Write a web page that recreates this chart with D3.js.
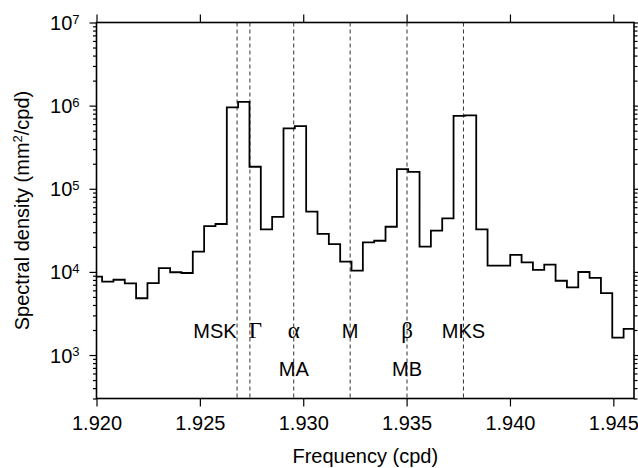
<!DOCTYPE html>
<html>
<head>
<meta charset="utf-8">
<script src="https://cdn.jsdelivr.net/npm/d3@7"></script>
<style>
  body { margin: 0; background: #fff; }
  text { font-family: "Liberation Sans", Arial, Helvetica, sans-serif; fill: #000; }
  .greek { font-family: "Liberation Serif", "Times New Roman", serif; }
</style>
</head>
<body>
<div id="chart"></div>
<script>
// bin centres (cpd) and spectral density (mm^2/cpd)
const freqs = [
  1.919997, 1.920545, 1.921093, 1.921642, 1.922190, 1.922739, 1.923287, 1.923836,
  1.924384, 1.924932, 1.925481, 1.926029, 1.926578, 1.927126, 1.927674, 1.928223,
  1.928771, 1.929320, 1.929868, 1.930416, 1.930965, 1.931513, 1.932062, 1.932610,
  1.933158, 1.933707, 1.934255, 1.934804, 1.935352, 1.935900, 1.936449, 1.936997,
  1.937546, 1.938094, 1.938642, 1.939191, 1.939739, 1.940288, 1.940836, 1.941384,
  1.941933, 1.942481, 1.943030, 1.943578, 1.944126, 1.944675, 1.945223, 1.945772
];
const density = [
  8750, 7620, 8050, 7290, 4820, 7340, 11100, 9900,
  9700, 17500, 35600, 37700, 951000, 1110000, 184000, 32500,
  46000, 532000, 568000, 53000, 28600, 21600, 13300, 10350,
  22700, 23700, 34900, 172500, 160000, 20100, 31300, 44100,
  754000, 762000, 32500, 11900, 11900, 16000, 13000, 10600,
  12200, 7830, 6530, 9970, 8460, 5570, 1620, 2060
];
const binWidth = 0.0005484;

// tidal constituents marked by dashed lines
const lineNames = ["MSK", "Γ", "α", "M", "β", "MKS"];
const lineFreqs = [1.92680, 1.92742, 1.92954, 1.93227, 1.93502, 1.93775];
const lowerNames = ["", "", "MA", "", "MB", ""];

const xTicks = [1.920, 1.925, 1.930, 1.935, 1.940, 1.945];
const yTicks = [1e3, 1e4, 1e5, 1e6, 1e7];

const W = 638, H = 468;
const margin = { top: 22.5, right: 4, bottom: 69.5, left: 96.5 };
const width = W - margin.left - margin.right;
const height = H - margin.top - margin.bottom;

const svg = d3.select("#chart").append("svg")
    .attr("width", W)
    .attr("height", H);

const g = svg.append("g")
    .attr("transform", `translate(${margin.left},${margin.top})`);

const x = d3.scaleLinear().domain([1.920, 1.946]).range([0, width]);
const y = d3.scaleLog().domain([300, 1e7]).range([height, 0]);

g.append("clipPath").attr("id", "clip")
  .append("rect").attr("width", width).attr("height", height);

// dashed constituent lines
g.append("g")
  .selectAll("line")
  .data(lineFreqs)
  .join("line")
    .attr("x1", d => x(d)).attr("x2", d => x(d))
    .attr("y1", 0).attr("y2", height)
    .attr("stroke", "#333")
    .attr("stroke-width", 1)
    .attr("stroke-dasharray", "4,3");

// histogram-style spectrum
const pts = [];
freqs.forEach((f, i) => {
  pts.push([f - binWidth / 2, density[i]]);
  pts.push([f + binWidth / 2, density[i]]);
});
const line = d3.line().x(d => x(d[0])).y(d => y(d[1]));
g.append("path")
  .datum(pts)
  .attr("clip-path", "url(#clip)")
  .attr("d", line)
  .attr("fill", "none")
  .attr("stroke", "#000")
  .attr("stroke-width", 1.8)
  .attr("stroke-linejoin", "miter");

// constituent labels
const isGreek = s => /[Α-ω]/.test(s);
g.append("g")
  .selectAll("text")
  .data(lineNames)
  .join("text")
    .attr("class", d => isGreek(d) ? "greek" : null)
    .attr("x", (d, i) => x(lineFreqs[i]) + (d === "MSK" ? -0.5 : d === "Γ" ? 5.5 : 0))
    .attr("y", 338.3 - margin.top)
    .attr("text-anchor", d => d === "MSK" ? "end" : "middle")
    .style("font-size", d => isGreek(d) ? "23px" : "20px")
    .text(d => d);

g.append("g")
  .selectAll("text")
  .data(lowerNames)
  .join("text")
    .attr("x", (d, i) => x(lineFreqs[i]))
    .attr("y", 376 - margin.top)
    .attr("text-anchor", "middle")
    .style("font-size", "20px")
    .text(d => d);

// axes
const minor = [];
for (let p = 2; p <= 6; p++) {
  for (let m = 2; m <= 9; m++) {
    const v = m * Math.pow(10, p);
    if (v >= 300 && v <= 1e7) minor.push(v);
  }
}

g.append("g")
  .attr("transform", `translate(0,${height})`)
  .call(d3.axisBottom(x).tickValues(xTicks).tickFormat(d3.format(".3f")).tickSize(8).tickSizeOuter(0).tickPadding(4))
  .call(a => a.select(".domain").remove())
  .call(a => a.selectAll("text").style("font-size", "20px").attr("dy", "0.95em"));

g.append("g")
  .call(d3.axisTop(x).tickValues(xTicks).tickFormat("").tickSize(8).tickSizeOuter(0))
  .call(a => a.select(".domain").remove());

[["left", d3.axisLeft, 0], ["right", d3.axisRight, width]].forEach(([side, ax, tx]) => {
  g.append("g")
    .attr("transform", `translate(${tx},0)`)
    .call(ax(y).tickValues(minor).tickFormat("").tickSize(3.5).tickSizeOuter(0))
    .call(a => a.select(".domain").remove());
  g.append("g")
    .attr("transform", `translate(${tx},0)`)
    .call(ax(y).tickValues(yTicks).tickFormat("").tickSize(7).tickSizeOuter(0))
    .call(a => a.select(".domain").remove());
});

g.selectAll(".tick line").attr("stroke", "#000").attr("stroke-width", 1.2);

// y tick labels as 10^n
const yl = g.append("g")
  .selectAll("text")
  .data(yTicks)
  .join("text")
    .attr("x", -17)
    .attr("y", d => y(d) + 7.5)
    .attr("text-anchor", "end")
    .style("font-size", "20px");
yl.append("tspan").text("10");
yl.append("tspan")
  .attr("dy", -6.5)
  .style("font-size", "13px")
  .text(d => Math.round(Math.log10(d)));

// frame
g.append("rect")
  .attr("width", width).attr("height", height)
  .attr("fill", "none")
  .attr("stroke", "#000")
  .attr("stroke-width", 1.6);

// axis titles
svg.append("text")
  .attr("x", margin.left + width / 2)
  .attr("y", 462.6)
  .attr("text-anchor", "middle")
  .style("font-size", "20px")
  .text("Frequency (cpd)");

const yt = svg.append("text")
  .attr("transform", `translate(29,${margin.top + height / 2}) rotate(-90)`)
  .attr("text-anchor", "middle")
  .style("font-size", "20px");
yt.append("tspan").text("Spectral density (mm");
yt.append("tspan").attr("dy", -7).style("font-size", "13px").text("2");
yt.append("tspan").attr("dy", 7).text("/cpd)");
</script>
</body>
</html>
